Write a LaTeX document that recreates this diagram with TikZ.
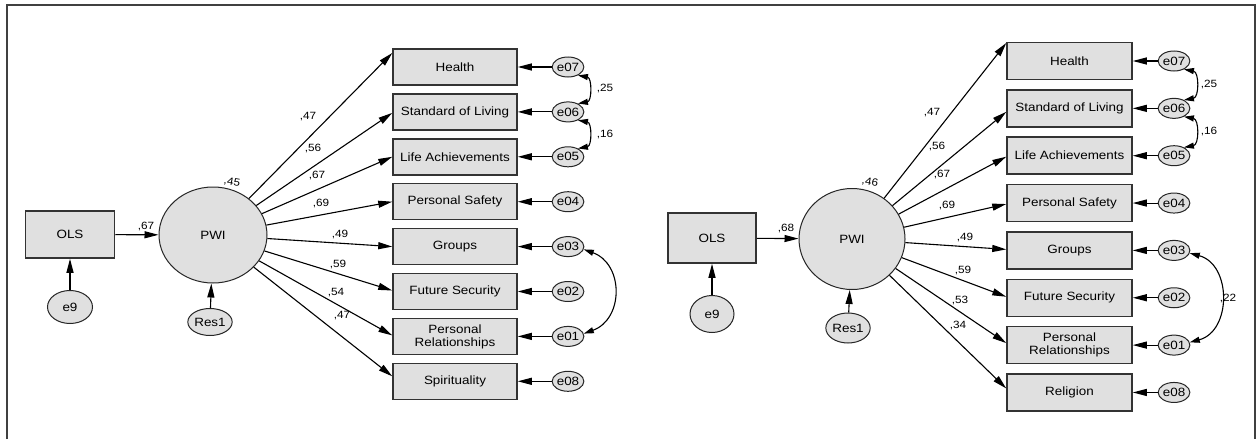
\documentclass[tikz,border=0pt]{standalone}
\usepackage{fontspec}
\setmainfont{Liberation Sans}[FakeStretch=1.12]
\usetikzlibrary{shapes.geometric,arrows.meta}

\begin{document}
\begin{tikzpicture}[x=1pt,y=-1pt,
						font=\fontsize{12}{13}\selectfont,
						obs/.style={draw=black!80,line width=1.5pt,fill=black!12,
						minimum width=124pt,minimum height=36pt,align=center,inner sep=0pt},
						lat/.style={ellipse,draw=black!85,line width=1pt,fill=black!12,inner sep=0pt},
						err/.style={lat,minimum width=27pt,minimum height=20pt},
						regr/.style={-{Triangle[length=14pt,width=7pt]},line width=1.1pt},
						cov/.style={{Triangle[length=10pt,width=6pt]}-{Triangle[length=10pt,width=6pt]},line width=1.1pt},
						val/.style={font=\fontsize{10.5}{12}\selectfont,inner sep=0pt}]

		\useasboundingbox (0,0) rectangle (1257,439);
		\draw[black!75,line width=2pt] (7,439) -- (7,5) -- (1255,5) -- (1255,439);

		% left model
		\node[obs,minimum width=89pt,minimum height=47pt] (l-ols) at (70,234.5) {OLS};
		\node[lat,minimum width=45pt,minimum height=33pt] (l-e9) at (70,307) {e9};
		\node[lat,minimum width=108pt,minimum height=96pt] (l-pwi) at (213,235) {PWI};
		\node[lat,minimum width=36pt,minimum height=27pt] (l-res) at (210,322) {Res1};

		\foreach \i/\txt/\e in {1/Health/e07,2/Standard of Living/e06,
			3/Life Achievements/e05,4/Personal Safety/e04,5/Groups/e03,
			6/Future Security/e02,7/Personal\\Relationships/e01,8/Spirituality/e08}
		{
			\node[obs] (l-b\i) at (455,{67+44.9*(\i-1)}) {\txt};
			\node[err] (l-e\i) at (568,{67+44.9*(\i-1)}) {\e};
			\draw[regr] (l-e\i) -- (l-b\i);
		}

		\foreach \i/\dy/\v/\lx/\ly in {1/14/47/308/117,2/-1/56/313/149,3/0/67/317/176,
			4/0/69/321/204,5/0/49/340/235,6/1/59/338/265,7/1/54/336/293,8/5/47/342/316}
		{
			\draw[regr] (l-pwi) -- ([yshift=\dy pt]l-b\i.west);
			\node[val] (l-v\i) at (\lx,\ly) {,\v};
		}

		\draw[regr] (l-ols) -- (l-pwi);
		\draw[regr] (l-e9) -- (l-ols);
		\draw[regr] (l-res) -- (l-pwi);
		\node[val] (l-r2) at (232,182) [rotate=-10] {,45};
		\node[val] (l-g) at (146,227) {,67};

		\draw[cov] (l-e1.-40) to[bend left=80,looseness=1.3] (l-e2.40);
		\draw[cov] (l-e2.-40) to[bend left=80,looseness=1.3] (l-e3.40);
		\draw[cov] (l-e5.-10) to[bend left=70,looseness=1.3] (l-e7.10);
		\node[val] (l-c1) at (605,89) {,25};
		\node[val] (l-c2) at (605,135) {,16};

		% right model
		\node[obs,minimum width=88pt,minimum height=50pt] (r-ols) at (712,238) {OLS};
		\node[lat,minimum width=44pt,minimum height=37pt] (r-e9) at (712,314) {e9};
		\node[lat,minimum width=106pt,minimum height=101pt] (r-pwi) at (852,239) {PWI};
		\node[lat,minimum width=35pt,minimum height=30pt] (r-res) at (848,328) {Res1};

		\foreach \i/\txt/\e in {1/Health/e07,2/Standard of Living/e06,
			3/Life Achievements/e05,4/Personal Safety/e04,5/Groups/e03,
			6/Future Security/e02,7/Personal\\Relationships/e01,8/Religion/e08}
		{
			\node[obs,minimum width=125pt,minimum height=37pt] (r-b\i) at (1069.5,{61+47.35*(\i-1)}) {\txt};
			\node[err] (r-e\i) at (1174,{61+47.35*(\i-1)}) {\e};
			\draw[regr] (r-e\i) -- (r-b\i);
		}

		\foreach \i/\dy/\v/\lx/\ly in {1/18/47/932/113,2/-3.5/56/937/147,3/-1/67/942/175,
			4/-1/69/947/206,5/1/49/965/238,6/1/59/963/271,7/2/53/960/301,8/4/34/958/326}
		{
			\draw[regr] (r-pwi) -- ([yshift=\dy pt]r-b\i.west);
			\node[val] (r-v\i) at (\lx,\ly) {,\v};
		}

		\draw[regr] (r-ols) -- (r-pwi);
		\draw[regr] (r-e9) -- (r-ols);
		\draw[regr] (r-res) -- (r-pwi);
		\node[val] (r-r2) at (870,182) [rotate=-10] {,46};
		\node[val] (r-g) at (786,229) {,68};

		\draw[cov] (r-e1.-40) to[bend left=80,looseness=1.3] (r-e2.40);
		\draw[cov] (r-e2.-40) to[bend left=80,looseness=1.3] (r-e3.40);
		\draw[cov] (r-e5.-10) to[bend left=75,looseness=1.25] (r-e7.10);
		\node[val] (r-c1) at (1209,85) {,25};
		\node[val] (r-c2) at (1209,132) {,16};
		\node[val] (r-c3) at (1228,299) {,22};

	\end{tikzpicture}
\end{document}
